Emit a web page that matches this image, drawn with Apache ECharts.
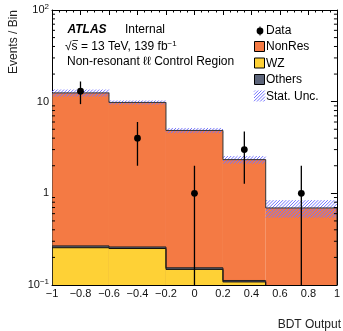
<!DOCTYPE html>
<html>
<head>
<meta charset="utf-8">
<script src="https://cdn.jsdelivr.net/npm/echarts@6/dist/echarts.min.js"></script>
<style>
html,body{margin:0;padding:0;background:#fff;}
#c{width:343px;height:331px;}
</style>
</head>
<body>
<div id="c"></div>
<script>
// ---- data ----
const binEdges = [-1, -0.6, -0.2, 0.2, 0.5, 1];
const nonRes = [12.2, 9.55, 4.7, 2.22, 0.65];
const wz = [0.255, 0.25, 0.148, 0.108, 0.04];
const others = [0.012, 0.01, 0.006, 0.004, 0.003];
const statUnc = [1.1, 0.5, 0.31, 0.22, 0.15];
const dataX = [-0.8, -0.4, 0, 0.35, 0.75];
const dataY = [13, 4, 1, 3, 1];
const dataErr = [3.6, 2, 1, 1.73, 1];
const yMinorMantissa = [2, 3, 4, 5, 6, 7, 8, 9];
const yDecades = [-1, 0, 1];

const FONT = '"Liberation Sans", Arial, Helvetica, sans-serif';
const C_NONRES = '#f47a44';
const C_WZ = '#fed136';
const C_OTH = '#5c6479';
const C_HATCH = '#7474ff';

// diagonal hatch lines "/" inside a screen rectangle
function hatchLines(x0, y0, x1, y1, step) {
  const out = [];
  const cStart = Math.ceil((x0 + y0) / step) * step;
  for (let c = cStart; c <= x1 + y1; c += step) {
    const xa = Math.max(x0, c - y1);
    const xb = Math.min(x1, c - y0);
    if (xb <= xa) continue;
    out.push({type: 'line', shape: {x1: xa, y1: c - xa, x2: xb, y2: c - xb},
      style: {stroke: C_HATCH, lineWidth: 1}, silent: true});
  }
  return out;
}

const cumWZ = wz.slice();
const cumOth = wz.map((v, i) => v + others[i]);
const total = wz.map((v, i) => v + others[i] + nonRes[i]);

const bins = binEdges.slice(0, -1).map((lo, i) => [lo, binEdges[i + 1], i]);
const YMIN = 0.1;

function stepRender(params, api) {
  const i = api.value(2);
  const lo = api.value(0), hi = api.value(1);
  let children = [];
  const bottom = api.coord([lo, YMIN])[1];
  const layers = [[total, C_NONRES], [cumOth, C_OTH], [cumWZ, C_WZ]];
  layers.forEach(function (L) {
    const arr = L[0];
    const p1 = api.coord([lo, arr[i]]);
    const p2 = api.coord([hi, arr[i]]);
    children.push({type: 'rect', shape: {x: p1[0], y: p1[1], width: p2[0] - p1[0], height: bottom - p1[1]},
      style: {fill: L[1]}});
  });
  // hatch band
  const hu = api.coord([lo, total[i] + statUnc[i]]);
  const hd = api.coord([hi, total[i] - statUnc[i]]);
  children = children.concat(hatchLines(hu[0], hu[1], hd[0], hd[1], 3.2));
  // outlines
  [[total, '#333'], [cumOth, '#222'], [cumWZ, '#111']].forEach(function (L) {
    const arr = L[0];
    const p1 = api.coord([lo, arr[i]]);
    const p2 = api.coord([hi, arr[i]]);
    const prevY = i > 0 ? api.coord([lo, arr[i - 1]])[1] : bottom;
    const pts = [[p1[0], prevY], [p1[0], p1[1]], [p2[0], p2[1]]];
    if (i === bins.length - 1) pts.push([p2[0], bottom]);
    children.push({type: 'polyline', shape: {points: pts}, style: {stroke: L[1], lineWidth: 1, fill: null}});
  });
  return {type: 'group', children: children};
}

function errRender(params, api) {
  const x = api.value(0), y = api.value(1), e = api.value(2);
  const up = api.coord([x, y + e]);
  const dn = api.coord([x, Math.max(y - e, 1e-3)]);
  const c = api.coord([x, y]);
  return {type: 'group', children: [
    {type: 'line', shape: {x1: up[0], y1: up[1], x2: dn[0], y2: dn[1]}, style: {stroke: '#000', lineWidth: 1.3}},
    {type: 'circle', shape: {cx: c[0], cy: c[1], r: 3.4}, style: {fill: '#000'}}
  ]};
}

const minorVals = [];
yDecades.forEach(k => yMinorMantissa.forEach(m => minorVals.push([m * Math.pow(10, k)])));

function minorRender(params, api) {
  const v = api.value(0);
  const L = api.coord([-1, v]);
  const R = api.coord([1, v]);
  return {type: 'group', children: [
    {type: 'line', shape: {x1: L[0], y1: L[1], x2: L[0] + 3, y2: L[1]}, style: {stroke: '#000', lineWidth: 1}},
    {type: 'line', shape: {x1: R[0], y1: R[1], x2: R[0] - 3, y2: R[1]}, style: {stroke: '#000', lineWidth: 1}}
  ]};
}

function xFmt(v) {
  const r = Math.round(v * 10) / 10;
  if (r < 0) return '\u2212' + String(Math.abs(r));
  return String(r);
}
function yFmt(v) {
  const e = Math.round(Math.log10(v));
  if (e === 0) return '{b|1}';
  if (e === 1) return '{b|10}';
  return '{b|10}{s|' + (e < 0 ? '\u2212' + Math.abs(e) : e) + '}';
}

const xCommon = {
  type: 'value', min: -1, max: 1, interval: 0.2,
  axisLine: {show: true, onZero: false, lineStyle: {color: '#000', width: 1}},
  axisTick: {show: true, inside: true, length: 5, lineStyle: {color: '#000'}},
  minorTick: {show: true, splitNumber: 4, length: 2.5, lineStyle: {color: '#000'}},
  splitLine: {show: false}, minorSplitLine: {show: false}
};
const yCommon = {
  type: 'log', logBase: 10, min: 0.1, max: 100, splitNumber: 3,
  axisLine: {show: true, onZero: false, lineStyle: {color: '#000', width: 1}},
  axisTick: {show: true, inside: true, length: 6, lineStyle: {color: '#000'}},
  splitLine: {show: false}
};

const legendHatch = hatchLines(254, 90.5, 265, 101.5, 3.2);

const chart = echarts.init(document.getElementById('c'), null, {renderer: 'canvas'});
chart.setOption({
  animation: false,
  backgroundColor: '#fff',
  grid: {left: 52, right: 5, top: 10, bottom: 46, containLabel: false},
  xAxis: [
    Object.assign({}, xCommon, {position: 'bottom',
      axisLabel: {show: true, formatter: xFmt, fontSize: 11, fontFamily: FONT, color: '#111', margin: 3,
        showMinLabel: true, showMaxLabel: true}}),
    Object.assign({}, xCommon, {position: 'top', axisLabel: {show: false}})
  ],
  yAxis: [
    Object.assign({}, yCommon, {position: 'left',
      axisLabel: {show: true, formatter: yFmt, margin: 3, showMinLabel: true, showMaxLabel: true,
        rich: {b: {fontSize: 11, fontFamily: FONT, color: '#111'},
               s: {fontSize: 8, fontFamily: FONT, color: '#111', padding: [0, 0, 6, 0]}}}}),
    Object.assign({}, yCommon, {position: 'right', axisLabel: {show: false}})
  ],
  series: [
    {type: 'custom', name: 'stack', xAxisIndex: 0, yAxisIndex: 0, clip: true,
      renderItem: stepRender, data: bins, z: 2},
    {type: 'custom', name: 'minor', xAxisIndex: 0, yAxisIndex: 0, clip: false,
      renderItem: minorRender, data: minorVals, z: 5, silent: true},
    {type: 'custom', name: 'Data', xAxisIndex: 0, yAxisIndex: 0, clip: true,
      renderItem: errRender, data: dataX.map((x, i) => [x, dataY[i], dataErr[i]]), z: 4}
  ],
  graphic: [
    {type: 'text', x: 14, y: 10, rotation: Math.PI / 2,
      style: {text: 'Events / Bin', font: '12px ' + FONT, fill: '#222', align: 'right', verticalAlign: 'middle'}},
    {type: 'text', right: 2, y: 319,
      style: {text: 'BDT Output', font: '12px ' + FONT, fill: '#222', align: 'left', verticalAlign: 'top'}},
    {type: 'text', x: 67.5, y: 30,
      style: {text: 'ATLAS', font: 'italic bold 12px ' + FONT, fill: '#000', verticalAlign: 'middle'}},
    {type: 'text', x: 125, y: 30,
      style: {text: 'Internal', font: '12px ' + FONT, fill: '#000', verticalAlign: 'middle'}},
    {type: 'text', x: 65, y: 46.5,
      style: {text: '{n|\u221As = 13 TeV, 139 fb}{s|\u22121}', verticalAlign: 'middle',
        rich: {n: {fontSize: 12, fontFamily: FONT, fill: '#000'},
               s: {fontSize: 8, fontFamily: FONT, fill: '#000', padding: [0, 0, 6, 0]}}}},
    {type: 'line', shape: {x1: 72.5, y1: 40.5, x2: 78, y2: 40.5}, style: {stroke: '#000', lineWidth: 0.8}},
    {type: 'text', x: 67, y: 62,
      style: {text: 'Non-resonant \u2113\u2113 Control Region', font: '12px ' + FONT, fill: '#000', verticalAlign: 'middle'}},
    // legend
    {type: 'line', shape: {x1: 260, y1: 26.5, x2: 260, y2: 35.5}, style: {stroke: '#000', lineWidth: 1}},
    {type: 'circle', shape: {cx: 260, cy: 31, r: 3.4}, style: {fill: '#000'}},
    {type: 'text', x: 266, y: 31, style: {text: 'Data', font: '12px ' + FONT, fill: '#000', verticalAlign: 'middle'}},
    {type: 'rect', shape: {x: 254.5, y: 41.5, width: 10, height: 10}, style: {fill: C_NONRES, stroke: '#000', lineWidth: 1}},
    {type: 'text', x: 266, y: 47, style: {text: 'NonRes', font: '12px ' + FONT, fill: '#000', verticalAlign: 'middle'}},
    {type: 'rect', shape: {x: 254.5, y: 58, width: 10, height: 10}, style: {fill: C_WZ, stroke: '#000', lineWidth: 1}},
    {type: 'text', x: 266, y: 63.5, style: {text: 'WZ', font: '12px ' + FONT, fill: '#000', verticalAlign: 'middle'}},
    {type: 'rect', shape: {x: 254.5, y: 74.5, width: 10, height: 10}, style: {fill: C_OTH, stroke: '#000', lineWidth: 1}},
    {type: 'text', x: 266, y: 80, style: {text: 'Others', font: '12px ' + FONT, fill: '#000', verticalAlign: 'middle'}},
    {type: 'text', x: 266, y: 96.5, style: {text: 'Stat. Unc.', font: '12px ' + FONT, fill: '#000', verticalAlign: 'middle'}}
  ].concat(legendHatch)
});
</script>
</body>
</html>
